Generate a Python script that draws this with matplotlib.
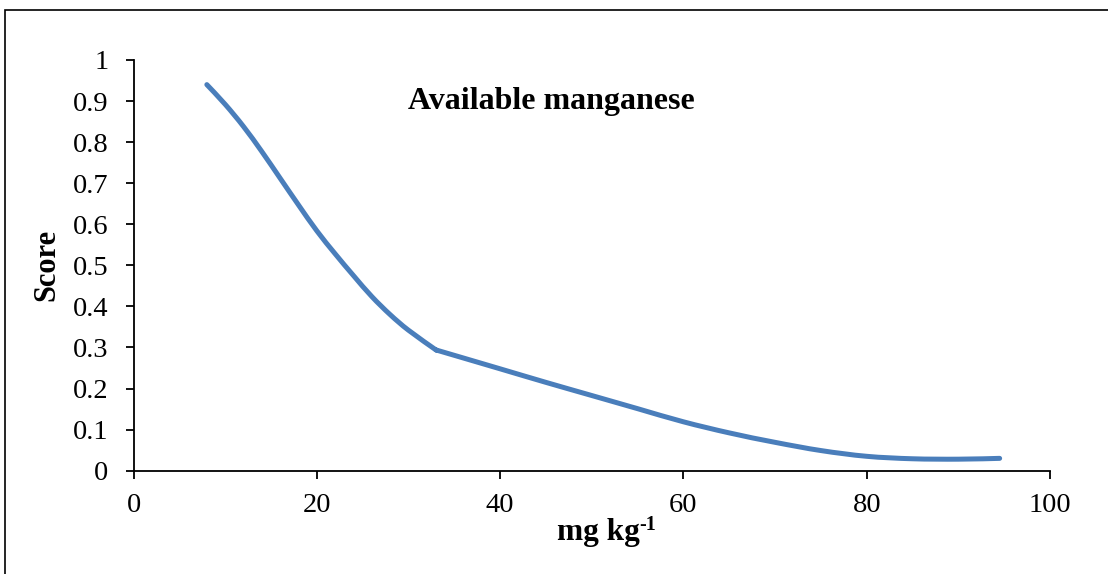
import matplotlib
matplotlib.use("Agg")
import numpy as np
import matplotlib.pyplot as plt
from matplotlib.patches import Rectangle, PathPatch
from matplotlib.path import Path

# score curve for available Mn (mg/kg); the curve breaks slope at 33 mg/kg
mn_steep = [8, 10, 12, 14, 16, 18, 20, 22, 24, 26, 28, 30, 33]
score_steep = [0.94, 0.892, 0.838, 0.777, 0.712, 0.647, 0.584, 0.528, 0.475,
               0.424, 0.380, 0.342, 0.294]
mn_tail = [33, 40, 45, 50, 55, 60, 65, 70, 75, 80, 85, 90, 94.5]
score_tail = [0.294, 0.248, 0.215, 0.183, 0.151, 0.119, 0.092, 0.069, 0.049,
              0.035, 0.029, 0.028, 0.03]

x_ticks = [0, 20, 40, 60, 80, 100]
y_ticks = [0, 0.1, 0.2, 0.3, 0.4, 0.5, 0.6, 0.7, 0.8, 0.9, 1]
y_tick_labels = ["0", "0.1", "0.2", "0.3", "0.4", "0.5", "0.6", "0.7", "0.8", "0.9", "1"]


def smooth_path(x, y):
    # cubic bezier through every point (catmull-rom style smoothed line)
    p = np.column_stack([x, y]).astype(float)
    verts = [p[0]]
    codes = [Path.MOVETO]
    n = len(p)
    for i in range(n - 1):
        p0 = p[i - 1] if i > 0 else p[i]
        p3 = p[i + 2] if i + 2 < n else p[i + 1]
        c1 = p[i] + (p[i + 1] - p0) / 6
        c2 = p[i + 1] - (p3 - p[i]) / 6
        verts += [c1, c2, p[i + 1]]
        codes += [Path.CURVE4] * 3
    return Path(verts, codes)


plt.rcParams["font.family"] = ["Liberation Serif", "DejaVu Serif"]

fig = plt.figure(figsize=(11.08, 5.74), dpi=100)
ax = fig.add_axes([0.1205, 0.18, 0.8272, 0.7155])

curve = Path.make_compound_path(smooth_path(mn_steep, score_steep),
                                smooth_path(mn_tail, score_tail))
ax.add_patch(PathPatch(curve, facecolor="none", edgecolor="#4A7EBB", lw=3.6,
                       capstyle="round", joinstyle="round"))

ax.set_xlim(0, 100)
ax.set_ylim(0, 1)
ax.set_xticks(x_ticks)
ax.set_yticks(y_ticks)
ax.set_yticklabels(y_tick_labels)
for s in ["top", "right"]:
    ax.spines[s].set_visible(False)
for s in ["left", "bottom"]:
    ax.spines[s].set_linewidth(1.3)
ax.tick_params(direction="out", length=6, width=1.3, labelsize=20.5)
ax.tick_params(axis="y", pad=12)
ax.tick_params(axis="x", pad=10)

ax.set_ylabel("Score", fontsize=22, fontweight="bold", labelpad=8)
xl = ax.set_xlabel("mg kg", fontsize=22.5, fontweight="bold")
ax.xaxis.set_label_coords(0.507, -0.115)
ax.xaxis.label.set_va("top")
ax.annotate("-1", xy=(1, 1), xycoords=xl, xytext=(0, 2), textcoords="offset points",
            ha="left", va="top", fontsize=14.5, fontweight="bold")
ax.text(0.3, 0.9, "Available manganese", transform=ax.transAxes,
        fontsize=23, fontweight="bold", ha="left", va="center")

# outer frame
fig.patches.append(Rectangle((5 / 1108, -0.1), 1.2, 1 - 10 / 574 + 0.1,
                             transform=fig.transFigure, fill=False,
                             edgecolor="black", lw=1.2))

fig.savefig("out.png", dpi=100)
